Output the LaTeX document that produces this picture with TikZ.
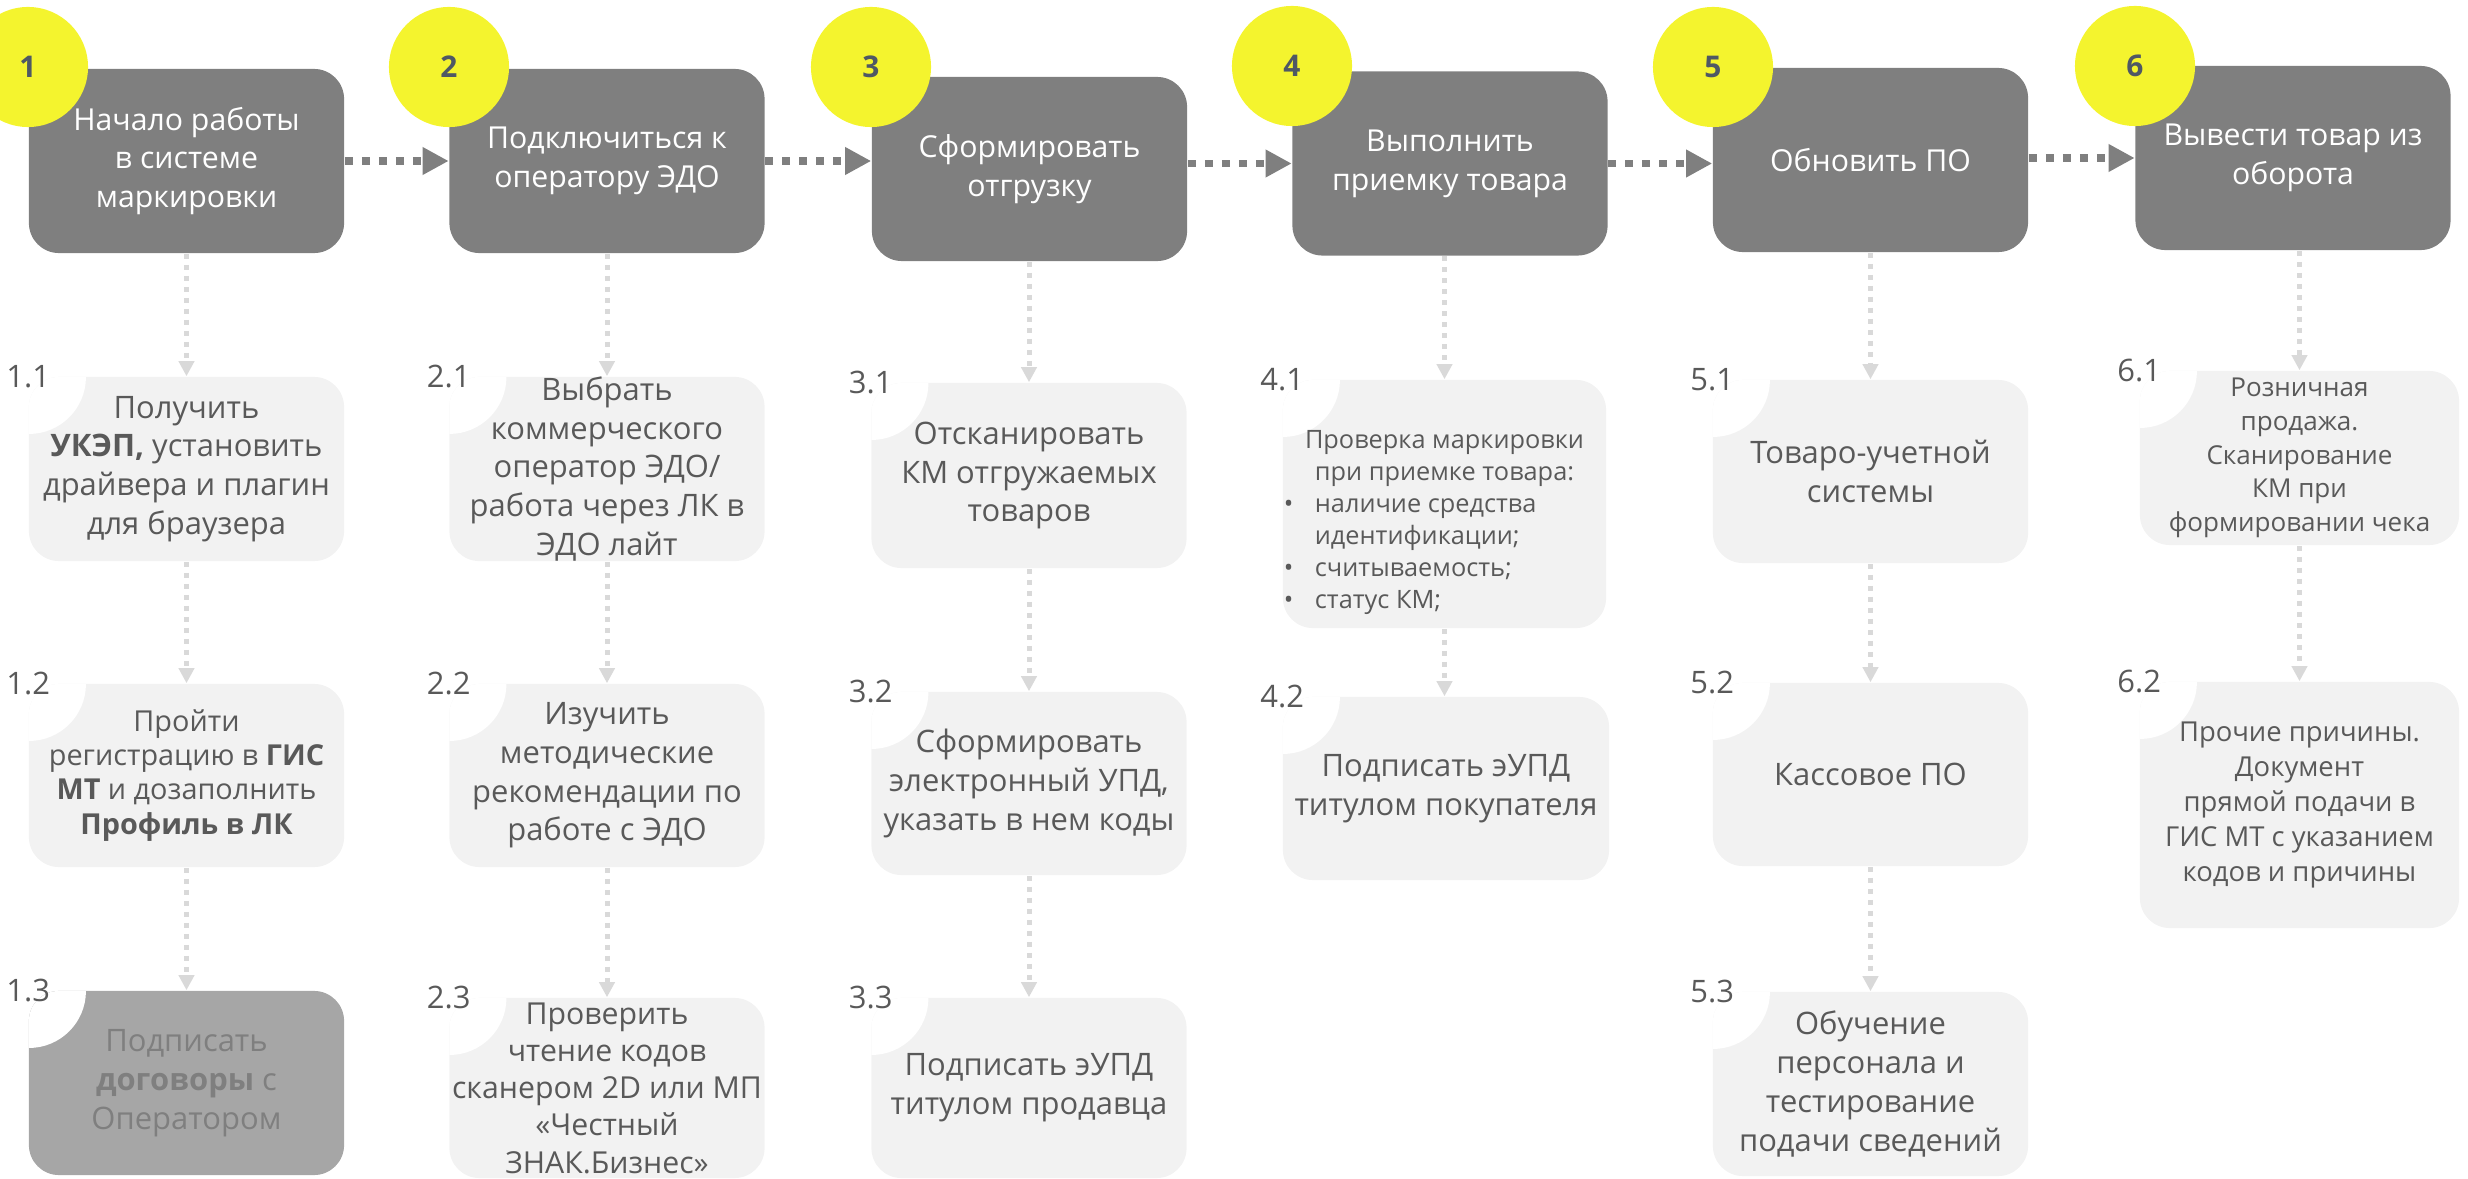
\documentclass[tikz,border=0pt]{standalone}
\usepackage{fontspec}
\setmainfont{Open Sans}
\usetikzlibrary{arrows.meta}

\definecolor{stagegray}{HTML}{7F7F7F}
\definecolor{taskgray}{HTML}{F2F2F2}
\definecolor{donegray}{HTML}{A6A6A6}
\definecolor{textgray}{HTML}{595959}
\definecolor{linkgray}{HTML}{D9D9D9}
\definecolor{badgeyellow}{RGB}{244,244,46}
\definecolor{badgetext}{HTML}{4F5864}

\tikzset{
  stage/.style={fill=stagegray, rounded corners=0.3cm, text=white, align=center,
    inner sep=0pt, minimum width=3.15cm, minimum height=1.84cm,
    font=\fontsize{8.6}{11}\selectfont},
  task/.style={fill=taskgray, rounded corners=0.3cm, text=textgray, align=center,
    inner sep=0pt, minimum width=3.15cm, minimum height=1.84cm,
    font=\fontsize{8.8}{11}\selectfont,
    path picture={\fill[white] (path picture bounding box.north west) circle (0.57cm);}},
  done/.style={task, fill=donegray, text=stagegray},
  badge/.style={circle, fill=badgeyellow, minimum size=1.2cm, inner sep=0pt,
    text=badgetext, font=\fontsize{8.5}{10}\selectfont\bfseries},
  tasknum/.style={text=textgray, inner sep=0pt, font=\fontsize{8.8}{10}\selectfont},
  flow/.style={draw=stagegray, line width=0.075cm, dash pattern=on 0.08cm off 0.09cm,
    -{Triangle[length=0.26cm, width=0.26cm]}},
  link/.style={draw=linkgray, line width=0.05cm, dash pattern=on 0.05cm off 0.06cm,
    -{Triangle[length=0.15cm, width=0.15cm]}},
}

\begin{document}
\begin{tikzpicture}[x=0.01cm, y=-0.01cm]
\useasboundingbox (0,0) rectangle (2468,1179);

% stages
\node[stage] (m1) at (186.5,161) {Начало работы\\в системе\\маркировки};
\node[stage] (m2) at (607,161) {Подключиться к\\оператору ЭДО};
\node[stage] (m3) at (1029.5,169) {Сформировать\\отгрузку};
\node[stage] (m4) at (1450,163.5) {Выполнить\\приемку товара};
\node[stage] (m5) at (1870.5,160) {Обновить ПО};
\node[stage] (m6) at (2293,158) {Вывести товар из\\оборота};

\node[badge] (b1) at (28,67) {1};
\node[badge] (b2) at (449,67) {2};
\node[badge] (b3) at (871,67) {3};
\node[badge] (b4) at (1292,66) {4};
\node[badge] (b5) at (1713,67) {5};
\node[badge] (b6) at (2135,66) {6};

% column 1
\node[task] (s11) at (186.5,469) {Получить\\\textbf{УКЭП,} установить\\драйвера и плагин\\для браузера};
\node[task, minimum height=1.83cm, font=\fontsize{8.2}{9.7}\selectfont] (s12) at (186.5,775.5)
  {Пройти\\регистрацию в \textbf{ГИС}\\\textbf{МТ} и дозаполнить\\\textbf{Профиль в ЛК}};
\node[done] (s13) at (186.5,1083) {Подписать\\\textbf{договоры} с\\Оператором};

% column 2
\node[task] (s21) at (607,469) {Выбрать\\коммерческого\\оператор ЭДО/\\работа через ЛК в\\ЭДО лайт};
\node[task, minimum height=1.83cm] (s22) at (607,775.5) {Изучить\\методические\\рекомендации по\\работе с ЭДО};
\node[task, minimum height=1.8cm, font=\fontsize{8.6}{10.6}\selectfont] (s23) at (607,1088)
  {Проверить\\чтение кодов\\сканером 2D или МП\\«Честный\\ЗНАК.Бизнес»};

% column 3
\node[task, minimum height=1.85cm] (s31) at (1029,475.5) {Отсканировать\\КМ отгружаемых\\товаров};
\node[task, minimum height=1.83cm] (s32) at (1029,783.5) {Сформировать\\электронный УПД,\\указать в нем коды};
\node[task, minimum height=1.8cm] (s33) at (1029,1088) {Подписать эУПД\\титулом продавца};

% column 4
\node[task, minimum width=3.23cm, minimum height=2.48cm] (s41) at (1444.5,504) {};
\node[text=textgray, inner sep=0pt, font=\fontsize{7.2}{9.1}\selectfont] (t41) at ([yshift=-0.18cm]s41.center)
  {\begin{tabular}{@{}p{0.31cm}@{}l@{}}
   \multicolumn{2}{c}{Проверка маркировки}\\
   \multicolumn{2}{c}{при приемке товара:}\\
   • & наличие средства\\
     & идентификации;\\
   • & считываемость;\\
   • & статус КМ;
   \end{tabular}};
\node[task, minimum width=3.26cm, minimum height=1.83cm] (s42) at (1446,788.5) {Подписать эУПД\\титулом покупателя};

% column 5
\node[task, minimum height=1.83cm] (s51) at (1870.5,471.5) {Товаро-учетной\\системы};
\node[task, minimum height=1.83cm] (s52) at (1870.5,774.5) {Кассовое ПО};
\node[task] (s53) at (1870.5,1084) {Обучение\\персонала и\\тестирование\\подачи сведений};

% column 6
\node[task, minimum width=3.19cm, minimum height=1.74cm, font=\fontsize{7.4}{9.6}\selectfont] (s61) at (2299.5,458)
  {Розничная\\продажа.\\Сканирование\\КМ при\\формировании чека};
\node[task, minimum width=3.19cm, minimum height=2.46cm, font=\fontsize{7.8}{9.9}\selectfont] (s62) at (2299.5,805)
  {Прочие причины.\\Документ\\прямой подачи в\\ГИС МТ с указанием\\кодов и причины};

% step numbers
\foreach \s/\t in {s11/1.1, s12/1.2, s13/1.3, s21/2.1, s22/2.2, s23/2.3, s31/3.1, s32/3.2, s33/3.3,
                   s41/4.1, s42/4.2, s51/5.1, s52/5.2, s53/5.3, s61/6.1, s62/6.2}
  \node[tasknum] (n\s) at (\s.north west) {\t};

% main flow
\draw[flow] (m1.east) -- (m1.east -| m2.west);
\draw[flow] (m2.east) -- (m2.east -| m3.west);
\draw[flow] (m3.east |- m4.west) -- (m4.west);
\draw[flow] (m4.east) -- (m4.east -| m5.west);
\draw[flow] (m5.east |- m6.west) -- (m6.west);

% sub steps
\draw[link] (m1.south -| s11.north) -- (s11.north);
\draw[link] (s11.south -| s12.north) -- (s12.north);
\draw[link] (s12.south -| s13.north) -- (s13.north);
\draw[link] (m2.south -| s21.north) -- (s21.north);
\draw[link] (s21.south -| s22.north) -- (s22.north);
\draw[link] (s22.south -| s23.north) -- (s23.north);
\draw[link] (m3.south -| s31.north) -- (s31.north);
\draw[link] (s31.south -| s32.north) -- (s32.north);
\draw[link] (s32.south -| s33.north) -- (s33.north);
\draw[link] (m4.south -| s41.north) -- (s41.north);
\draw[link] (s41.south) -- (s41.south |- s42.north);
\draw[link] (m5.south -| s51.north) -- (s51.north);
\draw[link] (s51.south -| s52.north) -- (s52.north);
\draw[link] (s52.south -| s53.north) -- (s53.north);
\draw[link] (m6.south -| s61.north) -- (s61.north);
\draw[link] (s61.south -| s62.north) -- (s62.north);
\end{tikzpicture}
\end{document}
